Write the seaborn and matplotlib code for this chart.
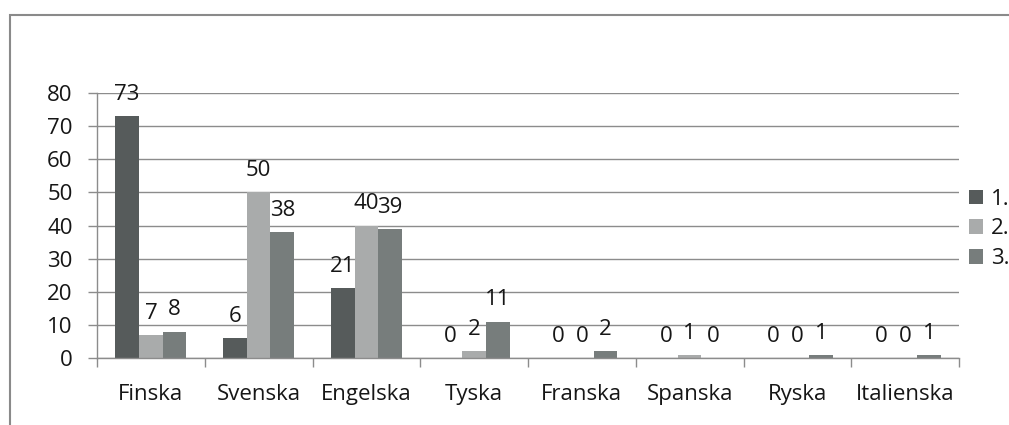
import matplotlib
matplotlib.use("Agg")
import matplotlib.pyplot as plt
import seaborn as sns
import pandas as pd
from matplotlib.patches import Rectangle, Patch

categories = ["Finska", "Svenska", "Engelska", "Tyska", "Franska", "Spanska", "Ryska", "Italienska"]
series_names = ["1.", "2.", "3."]
values_1 = [73, 6, 21, 0, 0, 0, 0, 0]
values_2 = [7, 50, 40, 2, 0, 1, 0, 0]
values_3 = [8, 38, 39, 11, 2, 0, 1, 1]
y_ticks = [0, 10, 20, 30, 40, 50, 60, 70, 80]

colors = ["#565b5b", "#a9abab", "#777d7c"]

rows = []
for name, vals in zip(series_names, [values_1, values_2, values_3]):
    for c, v in zip(categories, vals):
        rows.append({"Språk": c, "Serie": name, "Värde": v})
df = pd.DataFrame(rows)

sns.set_theme(style="white")
plt.rcParams["font.family"] = ["Open Sans", "DejaVu Sans"]

FS = 16
TXT = "#161616"

fig = plt.figure(figsize=(10.09, 4.25), dpi=100)
ax = fig.add_axes([97/1009, 1 - 358/425, (959-97)/1009, (358-93)/425])

sns.barplot(data=df, x="Språk", y="Värde", hue="Serie", order=categories,
            hue_order=series_names, palette=colors, width=0.66, gap=0,
            linewidth=0, saturation=1, ax=ax, legend=False, errorbar=None)

for cont in ax.containers:
    ax.bar_label(cont, labels=[f"{int(h.get_height())}" for h in cont],
                 padding=8, fontsize=FS, color=TXT)

ax.set_ylim(0, 80)
ax.set_xlim(-0.5, len(categories) - 0.5)
ax.set_yticks(y_ticks)
ax.set_yticklabels([str(t) for t in y_ticks], fontsize=FS, color=TXT)
ax.set_xticks(range(len(categories)))
ax.set_xticklabels(categories, fontsize=FS, color=TXT)
ax.set_xticks([i - 0.5 for i in range(len(categories) + 1)], minor=True)
ax.tick_params(axis="x", which="major", length=0, pad=19)
ax.tick_params(axis="x", which="minor", length=6.5, width=1, color="#8c8c8c", direction="out", bottom=True)
ax.tick_params(axis="y", which="major", length=6.5, width=1, color="#8c8c8c", direction="out", pad=11, left=True)
ax.set_xlabel("")
ax.set_ylabel("")

ax.yaxis.grid(True, color="#8c8c8c", linewidth=1)
ax.set_axisbelow(True)
for s in ["top", "right"]:
    ax.spines[s].set_visible(False)
for s in ["left", "bottom"]:
    ax.spines[s].set_color("#8c8c8c")
    ax.spines[s].set_linewidth(1)

handles = [Patch(facecolor=c, edgecolor="none") for c in colors]
fig.legend(handles, series_names, loc="center left", bbox_to_anchor=(969/1009, 1 - 229/425),
           frameon=False, fontsize=FS, handlelength=0.63, handleheight=0.63,
           handletextpad=0.35, labelspacing=0.4, borderaxespad=0, borderpad=0,
           labelcolor=TXT)

fig.patches.append(Rectangle((9.5/1009, -0.1), 1.2, 1 - 14.5/425 + 0.1,
                             transform=fig.transFigure, fill=False,
                             edgecolor="#8a8a8a", linewidth=1.5))

fig.savefig("out.png", dpi=100)
